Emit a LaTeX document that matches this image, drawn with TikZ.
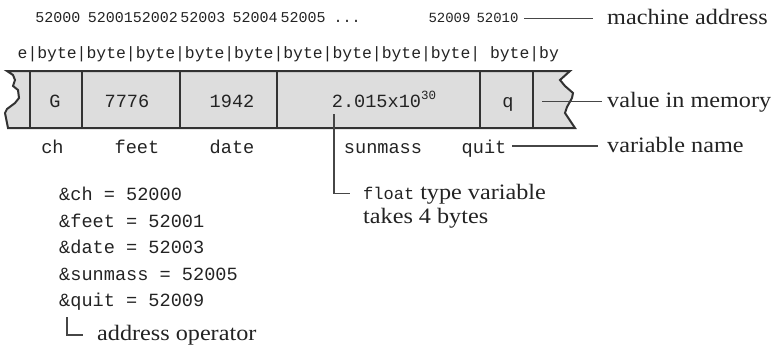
\documentclass[tikz,border=0pt]{standalone}
\usepackage{fontspec}
\setmainfont{Liberation Serif}[FakeStretch=1.1]
\setmonofont{Liberation Mono}
\definecolor{cellfill}{RGB}{221,221,221}
\definecolor{linecol}{RGB}{50,50,50}
\definecolor{ptrcol}{RGB}{70,70,70}
\definecolor{txt}{RGB}{35,35,35}
\tikzset{
  addr/.style={font=\fontsize{15}{18}\selectfont\ttfamily, anchor=base, inner sep=0pt, text=txt},
  addrr/.style={font=\fontsize{14}{17}\selectfont\ttfamily, anchor=base, inner sep=0pt, text=txt},
  byterow/.style={font=\fontsize{16.4}{20}\selectfont\ttfamily, anchor=base west, inner sep=0pt, text=txt},
  val/.style={font=\fontsize{18.6}{20}\selectfont\ttfamily, anchor=base, inner sep=0pt, text=txt},
  opline/.style={font=\fontsize{18.6}{20}\selectfont\ttfamily, anchor=base west, inner sep=0pt, text=txt},
  lbl/.style={font=\fontsize{22}{24}\selectfont\rmfamily, anchor=base west, inner sep=0pt, text=txt},
  stripedge/.style={draw=linecol, line width=2pt, line join=miter},
  ptr/.style={draw=ptrcol, line width=1.1pt},
}
\begin{document}
\begin{tikzpicture}[x=1pt,y=-1pt]
\useasboundingbox (0,0) rectangle (778,345);

% memory strip
\path[fill=cellfill, stripedge]
  (7,71) -- (570,71) -- (560,80) -- (565,86) -- (573,93) -- (572,98) -- (567,107) -- (565,113) -- (575,128)
  -- (8,128) -- (5,113) -- (7,109) -- (15,103) -- (19,98) -- (18,90) -- (13,86) -- (15,80) -- (13,75) -- cycle;
\foreach \x in {30,82,180,277,480,533}{
  \draw[stripedge] (\x,71) -- (\x,128);
}

% machine addresses
\node[addr] (a0) at (58,23) {52000};
\node[addr] (a12) at (133,23) {5200152002};
\node[addr] (a3) at (203,23) {52003};
\node[addr] (a4) at (255,23) {52004};
\node[addr] (a5) at (303,23) {52005};
\node[addr] (adots) at (347,23) {...};
\node[addrr] (a9) at (449.5,23) {52009};
\node[addrr] (a10) at (497.5,23) {52010};
\node[lbl] (lblma) at (607,24.5) {machine address};
\coordinate (maS) at (524,18.5);
\coordinate (maE) at (593,18.5);
\draw[ptr] (maS) -- (maE);

% byte row
\node[byterow] (bytes) at (17.5,59) {e|byte|byte|byte|byte|byte|byte|byte|byte|byte|\ byte|by};

% values
\node[val] (vG) at (55,107.5) {G};
\node[val] (v7776) at (127,107.5) {7776};
\node[val] (v1942) at (232,107.5) {1942};
\node[val] (vsun) at (384,107.5) {2.015x10\raisebox{0.42em}{\fontsize{12.5}{13}\selectfont 30}};
\node[val] (vq) at (508,107.5) {q};
\node[lbl] (lblvm) at (607,107) {value in memory};
\coordinate (vmS) at (542,101.5);
\coordinate (vmE) at (602,101.5);
\draw[ptr] (vmS) -- (vmE);

% names
\node[val] (nch) at (52.5,153) {ch};
\node[val] (nfeet) at (137,153) {feet};
\node[val] (ndate) at (232,153) {date};
\node[val] (nsun) at (383,153) {sunmass};
\node[val] (nquit) at (484,153) {quit};
\node[lbl] (lblvn) at (607,152) {variable name};
\coordinate (vnS) at (512,146);
\coordinate (vnE) at (598,146);
\draw[ptr] (vnS) -- (vnE);

% float note
\coordinate (sunT) at (334,114);
\coordinate (sunB) at (334,193.5);
\coordinate (sunE) at (350,193.5);
\draw[ptr] (sunT) -- (sunB) -- (sunE);
\node[lbl] (fl1) at (363,199.5) {{\ttfamily\fontsize{17}{20}\selectfont float} type variable};
\node[lbl] (fl2) at (363,223.5) {takes 4 bytes};

% address operator lines
\node[opline] (o1) at (59,200.5) {\&ch = 52000};
\node[opline] (o2) at (59,227) {\&feet = 52001};
\node[opline] (o3) at (59,253.5) {\&date = 52003};
\node[opline] (o4) at (59,280) {\&sunmass = 52005};
\node[opline] (o5) at (59,306.5) {\&quit = 52009};
\coordinate (aoT) at (67,317);
\coordinate (aoB) at (67,335);
\coordinate (aoE) at (83,335);
\draw[ptr] (aoT) -- (aoB) -- (aoE);
\node[lbl] (lblao) at (97,340.5) {address operator};
\end{tikzpicture}
\end{document}
